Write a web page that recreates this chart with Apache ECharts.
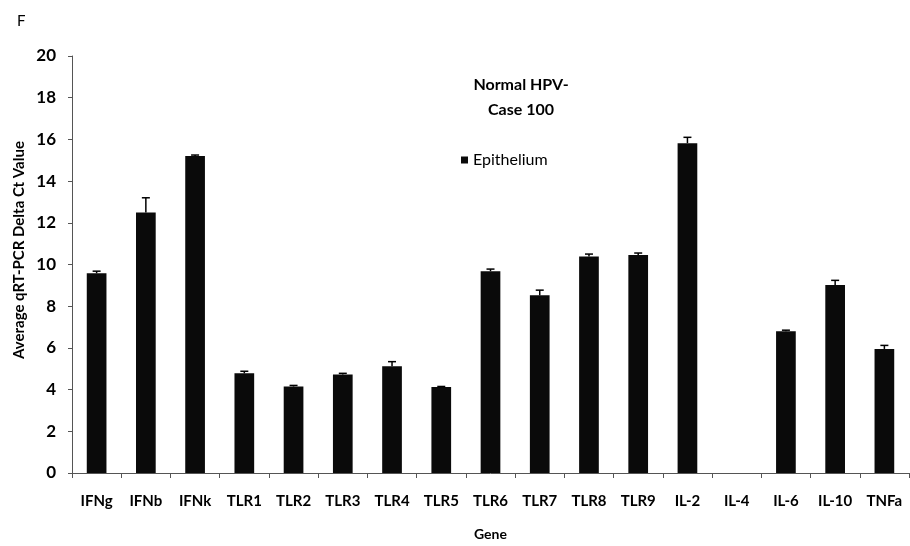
<!DOCTYPE html>
<html>
<head>
<meta charset="utf-8">
<script src="https://cdn.jsdelivr.net/npm/echarts@6/dist/echarts.min.js"></script>
<style>html,body{margin:0;padding:0;background:#fff;}#c{width:910px;height:546px;}</style>
</head>
<body>
<div id="c"></div>
<script>
var genes = ['IFNg','IFNb','IFNk','TLR1','TLR2','TLR3','TLR4','TLR5','TLR6','TLR7','TLR8','TLR9','IL-2','IL-4','IL-6','IL-10','TNFa'];
var epithelium = [9.58, 12.5, 15.2, 4.78, 4.15, 4.73, 5.12, 4.12, 9.68, 8.52, 10.38, 10.45, 15.82, 0, 6.8, 9.02, 5.95];
var epitheliumErr = [0.1, 0.7, 0.05, 0.1, 0.05, 0.05, 0.22, 0.03, 0.1, 0.25, 0.12, 0.1, 0.28, 0, 0.05, 0.22, 0.17];
var yTicks = [0, 2, 4, 6, 8, 10, 12, 14, 16, 18, 20];

var FONT = 'Lato, "DejaVu Sans", sans-serif';
var errData = genes.map(function (g, i) { return [i, epithelium[i], epithelium[i] + epitheliumErr[i]]; });

var chart = echarts.init(document.getElementById('c'), null, {renderer: 'canvas'});
chart.setOption({
  backgroundColor: '#ffffff',
  animation: false,
  title: [
    {text: 'F', left: 12, top: 9, textStyle: {fontFamily: FONT, fontSize: 15, fontWeight: 'normal', color: '#000'}},
    {text: 'Normal HPV-\nCase 100', left: 516, top: 67, textAlign: 'center',
     textStyle: {fontFamily: FONT, fontSize: 16, fontWeight: 'bold', color: '#000', lineHeight: 25}}
  ],
  legend: {
    data: ['Epithelium'], left: 456, top: 147, itemWidth: 7, itemHeight: 7, itemGap: 6,
    icon: 'rect',
    textStyle: {fontFamily: FONT, fontSize: 16, color: '#000'}
  },
  graphic: [
    {type: 'text', x: 19, y: 250, rotation: Math.PI / 2,
     style: {text: 'Average qRT-PCR Delta Ct Value', fill: '#000', font: 'bold 15px ' + FONT,
             textAlign: 'center', textVerticalAlign: 'middle', align: 'center', verticalAlign: 'middle'}}
  ],
  grid: {left: 72, right: 1, top: 56, bottom: 68, containLabel: false},
  xAxis: {
    type: 'category', data: genes,
    name: 'Gene', nameLocation: 'middle', nameGap: 54,
    nameTextStyle: {fontFamily: FONT, fontSize: 14, fontWeight: 'bold', color: '#000'},
    axisLine: {lineStyle: {color: '#555', width: 1}},
    axisTick: {show: true, length: 5, lineStyle: {color: '#555'}},
    axisLabel: {fontFamily: FONT, fontSize: 15, fontWeight: 'bold', color: '#000', margin: 21, interval: 0}
  },
  yAxis: {
    type: 'value', min: 0, max: 20, interval: 2,
    axisLine: {show: true, lineStyle: {color: '#555', width: 1}},
    axisTick: {show: true, length: 4, lineStyle: {color: '#555'}},
    splitLine: {show: false},
    axisLabel: {fontFamily: FONT, fontSize: 17, fontWeight: 'bold', color: '#000', margin: 16,
      formatter: function (v) { return yTicks.indexOf(v) >= 0 ? String(v) : ''; }}
  },
  series: [
    {
      name: 'Epithelium', type: 'bar', data: epithelium, barWidth: '40%',
      itemStyle: {color: '#0a0a0a'}
    },
    {
      name: 'err', type: 'custom', data: errData, z: 3,
      renderItem: function (params, api) {
        var x = api.value(0);
        if (api.value(2) - api.value(1) <= 0) return null;
        var p0 = api.coord([x, api.value(1)]);
        var p1 = api.coord([x, api.value(2)]);
        var hw = 4;
        return {
          type: 'group',
          children: [
            {type: 'line', shape: {x1: p0[0], y1: p0[1], x2: p1[0], y2: p1[1]}, style: {stroke: '#000', lineWidth: 1.5}},
            {type: 'line', shape: {x1: p1[0] - hw, y1: p1[1], x2: p1[0] + hw, y2: p1[1]}, style: {stroke: '#000', lineWidth: 1.5}}
          ]
        };
      }
    }
  ]
});
</script>
</body>
</html>
